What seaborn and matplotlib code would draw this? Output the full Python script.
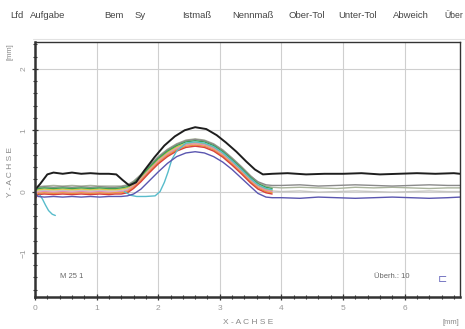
import numpy as np
import pandas as pd
import matplotlib
matplotlib.use("Agg")
import matplotlib.pyplot as plt
from matplotlib.ticker import MultipleLocator, FixedLocator
import seaborn as sns

# ---------------- data (mm) ----------------
x_black = [0.0, 0.08, 0.2, 0.3, 0.45, 0.6, 0.75, 0.9, 1.05, 1.2, 1.32, 1.42, 1.53, 1.64, 1.78,
           1.94, 2.1, 2.27, 2.43, 2.6, 2.78, 2.95, 3.1, 3.27, 3.43, 3.57, 3.7, 3.85, 4.1, 4.4,
           4.7, 5.0, 5.3, 5.6, 5.9, 6.2, 6.5, 6.8, 6.9]
y_black = [0.03, 0.12, 0.28, 0.31, 0.29, 0.31, 0.29, 0.30, 0.29, 0.29, 0.28, 0.19, 0.10, 0.15, 0.35,
           0.56, 0.75, 0.90, 1.00, 1.05, 1.02, 0.92, 0.80, 0.65, 0.49, 0.36, 0.28, 0.29, 0.30, 0.28,
           0.29, 0.29, 0.30, 0.28, 0.29, 0.30, 0.29, 0.30, 0.29]

x_left = [0.0, 0.05, 0.15, 0.3, 0.45, 0.6, 0.75, 0.9, 1.05, 1.2, 1.3]
x_bump = [1.4, 1.5, 1.6, 1.72, 1.85, 2.0, 2.15, 2.3, 2.45, 2.6, 2.75, 2.9, 3.05, 3.2, 3.35,
          3.5, 3.62, 3.75, 3.85]
x_right = [4.0, 4.3, 4.6, 4.9, 5.2, 5.5, 5.8, 6.1, 6.4, 6.7, 6.9]

gray1_left = [0.00, 0.07, 0.08, 0.07, 0.08, 0.07, 0.08, 0.07, 0.08, 0.07, 0.07]
gray1_bump = [0.08, 0.10, 0.16, 0.27, 0.41, 0.56, 0.68, 0.77, 0.83, 0.85, 0.83, 0.77, 0.67, 0.54,
              0.40, 0.25, 0.16, 0.11, 0.10]
gray1_right = [0.10, 0.11, 0.09, 0.10, 0.11, 0.10, 0.09, 0.10, 0.11, 0.10, 0.10]

gray2_left = [0.04, 0.08, 0.09, 0.10, 0.09, 0.10, 0.09, 0.10, 0.09, 0.09, 0.09]
gray2_bump = [0.09, 0.11, 0.17, 0.28, 0.42, 0.57, 0.69, 0.78, 0.84, 0.86, 0.84, 0.78, 0.68, 0.55,
              0.41, 0.26, 0.15, 0.09, 0.07]
gray2_right = [0.06, 0.07, 0.06, 0.05, 0.07, 0.06, 0.07, 0.06, 0.05, 0.06, 0.06]

gray3_left = [-0.02, 0.01, 0.02, 0.01, 0.02, 0.01, 0.02, 0.01, 0.02, 0.01, 0.01]
gray3_bump = [0.02, 0.04, 0.10, 0.21, 0.35, 0.50, 0.62, 0.71, 0.77, 0.79, 0.77, 0.71, 0.61, 0.48,
              0.34, 0.19, 0.09, 0.03, 0.01]
gray3_right = [0.00, 0.01, -0.01, 0.00, 0.01, 0.00, -0.01, 0.00, 0.01, 0.00, 0.00]

green_left = [0.02, 0.05, 0.06, 0.05, 0.06, 0.05, 0.06, 0.05, 0.06, 0.05, 0.05]
green_bump = [0.06, 0.08, 0.14, 0.25, 0.39, 0.54, 0.66, 0.75, 0.81, 0.83, 0.81, 0.75, 0.65, 0.52,
              0.38, 0.23, 0.13, 0.07, 0.05]

yellow_left = [0.00, 0.03, 0.04, 0.03, 0.04, 0.03, 0.04, 0.03, 0.04, 0.03, 0.03]
yellow_bump = [0.04, 0.06, 0.12, 0.23, 0.37, 0.52, 0.64, 0.73, 0.78, 0.80, 0.78, 0.72, 0.62, 0.49,
               0.35, 0.20, 0.10, 0.04, 0.02]

pink_left = [-0.04, -0.01, 0.00, -0.01, 0.00, -0.01, 0.00, -0.01, 0.00, -0.01, -0.01]
pink_bump = [0.00, 0.02, 0.09, 0.20, 0.34, 0.49, 0.61, 0.70, 0.76, 0.78, 0.76, 0.70, 0.60, 0.47,
             0.33, 0.18, 0.08, 0.02, 0.00]

orange_left = [-0.10, -0.03, -0.02, -0.03, -0.02, -0.03, -0.02, -0.03, -0.02, -0.03, -0.02]
orange_bump = [-0.02, 0.00, 0.07, 0.18, 0.32, 0.47, 0.59, 0.68, 0.74, 0.76, 0.74, 0.68, 0.58, 0.45,
               0.31, 0.16, 0.06, 0.00, -0.02]

red_left = [-0.12, -0.05, -0.04, -0.05, -0.04, -0.05, -0.04, -0.05, -0.04, -0.05, -0.04]
red_bump = [-0.04, -0.02, 0.05, 0.16, 0.30, 0.45, 0.57, 0.66, 0.72, 0.74, 0.72, 0.66, 0.56, 0.43,
            0.29, 0.14, 0.04, -0.02, -0.04]

purple_left = [-0.02, -0.08, -0.09, -0.08, -0.09, -0.08, -0.09, -0.08, -0.09, -0.08, -0.08]
purple_bump = [-0.08, -0.07, -0.04, 0.04, 0.17, 0.32, 0.46, 0.57, 0.63, 0.65, 0.63, 0.57, 0.48,
               0.36, 0.22, 0.08, -0.03, -0.09, -0.10]
purple_right = [-0.10, -0.11, -0.09, -0.10, -0.11, -0.10, -0.09, -0.10, -0.11, -0.10, -0.09]

cyan_hook_x = [0.08, 0.12, 0.17, 0.22, 0.28, 0.33]
cyan_hook_y = [-0.06, -0.12, -0.22, -0.31, -0.37, -0.39]
cyan_x = [1.45, 1.55, 1.65, 1.8, 1.95, 2.03, 2.1, 2.16, 2.22, 2.3, 2.45, 2.6, 2.75, 2.9, 3.05,
          3.2, 3.35, 3.5, 3.62, 3.75, 3.85]
cyan_y = [0.00, -0.06, -0.08, -0.08, -0.07, 0.00, 0.15, 0.32, 0.52, 0.66, 0.79, 0.81, 0.79, 0.73,
          0.63, 0.50, 0.36, 0.21, 0.11, 0.05, 0.03]

header = ["Lfd", "Aufgabe", "Bem", "Sy", "Istmaß", "Nennmaß", "Ober-Tol", "Unter-Tol",
          "Abweich", "Über"]
x_ticks = [0, 1, 2, 3, 4, 5, 6]
y_ticks = [-1, 0, 1, 2]

# ---------------- long table ----------------
curves = [
    ("gray3", x_left + x_bump + x_right, gray3_left + gray3_bump + gray3_right),
    ("gray2", x_left + x_bump + x_right, gray2_left + gray2_bump + gray2_right),
    ("gray1", x_left + x_bump + x_right, gray1_left + gray1_bump + gray1_right),
    ("yellow", x_left + x_bump, yellow_left + yellow_bump),
    ("pink", x_left + x_bump, pink_left + pink_bump),
    ("orange", x_left + x_bump, orange_left + orange_bump),
    ("red", x_left + x_bump, red_left + red_bump),
    ("green", x_left + x_bump, green_left + green_bump),
    ("cyan_a", cyan_hook_x, cyan_hook_y),
    ("cyan_b", cyan_x, cyan_y),
    ("purple", x_left + x_bump + x_right, purple_left + purple_bump + purple_right),
    ("black", x_black, y_black),
]
palette = {"gray3": "#c6c6c2", "gray2": "#a9b39c", "gray1": "#8a8a8a", "yellow": "#d8c64c",
           "pink": "#e48cb6", "orange": "#eb9a3e", "red": "#d9403c", "green": "#3f9d52",
           "cyan_a": "#58bccb", "cyan_b": "#58bccb", "purple": "#5a56b0", "black": "#1e1e1e"}

frames = []
for name, xs, ys in curves:
    frames.append(pd.DataFrame({"x": xs, "y": ys, "curve": name}))
df = pd.concat(frames, ignore_index=True)

# ---------------- figure ----------------
sns.set_theme(style="white")
plt.rcParams["font.family"] = ["Liberation Sans", "DejaVu Sans"]

fig = plt.figure(figsize=(4.65, 3.29), dpi=100)
W, H = 465.0, 329.0
ax = fig.add_axes([35 / W, 1 - 297 / H, (460 - 35) / W, (297 - 42) / H])

for name, _, _ in curves:
    sub = df[df["curve"] == name]
    sns.lineplot(data=sub, x="x", y="y", color=palette[name], estimator=None, sort=False,
                 lw=1.4 if name == "black" else 1.0, ax=ax, legend=False)

ax.set_xlim(0, 6.9)
ax.set_ylim(-1.72, 2.44)
ax.xaxis.set_major_locator(FixedLocator(x_ticks))
ax.yaxis.set_major_locator(FixedLocator(y_ticks))
ax.xaxis.set_minor_locator(MultipleLocator(0.2))
ax.yaxis.set_minor_locator(MultipleLocator(0.2))
ax.grid(True, which="major", color="#cfcfcf", lw=0.8)
ax.set_axisbelow(True)
ax.set_xlabel("")
ax.set_ylabel("")
ax.tick_params(which="both", direction="inout", color="#333333", left=True, bottom=True)
ax.tick_params(which="major", length=5, width=0.9, labelsize=6, labelcolor="#999999", pad=3)
ax.tick_params(which="minor", length=3.5, width=0.8)
for lab in ax.get_yticklabels():
    lab.set_rotation(90)
    lab.set_va("center")
for side in ["left", "bottom"]:
    ax.spines[side].set_linewidth(1.8)
    ax.spines[side].set_color("#333333")
for side in ["top", "right"]:
    ax.spines[side].set_linewidth(1.0)
    ax.spines[side].set_color("#333333")

# header
hx = [10, 30, 104, 135, 182, 232, 288, 338, 393, 444]
for t, px in zip(header, hx):
    fig.text(px / W, 1 - 16 / H, t, fontsize=6.8 if t != "Über" else 6.2, color="#444444",
             ha="left", va="center")
fig.add_artist(plt.Line2D([33 / W, 1.0], [1 - 39 / H, 1 - 39 / H], color="#e2e2e2", lw=0.8))

# axis titles
fig.text(10 / W, 1 - 172 / H, "Y - A C H S E", rotation=90, fontsize=6, color="#888888",
         ha="center", va="center")
fig.text(10 / W, 1 - 52 / H, "[mm]", rotation=90, fontsize=5.5, color="#888888",
         ha="center", va="center")
fig.text(248 / W, 1 - 322 / H, "X - A C H S E", fontsize=6, color="#888888",
         ha="center", va="center")
fig.text(451 / W, 1 - 322 / H, "[mm]", fontsize=5.5, color="#888888", ha="center", va="center")

# annotations inside plot
fig.text(72 / W, 1 - 276 / H, "M 25 1", fontsize=5.5, color="#666666", ha="center", va="center")
fig.text(392 / W, 1 - 276 / H, "Überh.: 10", fontsize=5.5, color="#666666", ha="center",
         va="center")
fig.text(442 / W, 1 - 279 / H, "⊏", fontsize=8, color="#7070c0", ha="center", va="center",
         family=["DejaVu Sans"])

fig.savefig("out.png", dpi=100)
